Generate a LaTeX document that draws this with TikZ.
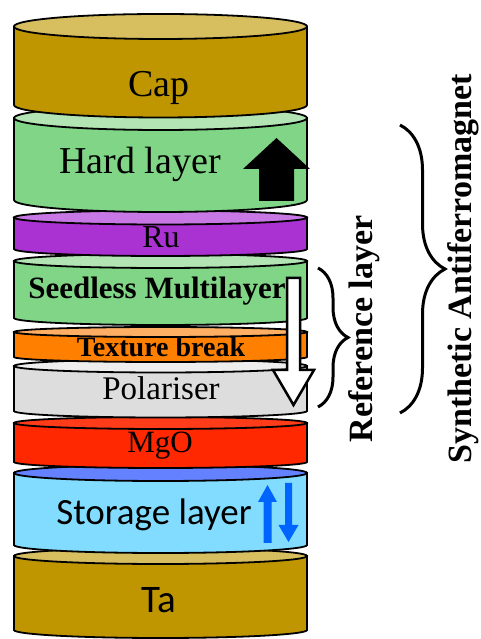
\documentclass[tikz,border=0pt]{standalone}
\usepackage{fontspec}
\setmainfont{Liberation Serif}
\newfontfamily\calib{Carlito}
\usetikzlibrary{decorations.pathreplacing}
\definecolor{goldside}{RGB}{191,150,0}
\definecolor{goldtop}{RGB}{215,190,95}
\definecolor{greenside}{RGB}{128,214,134}
\definecolor{greentop}{RGB}{178,228,180}
\definecolor{ruside}{RGB}{170,50,210}
\definecolor{rutop}{RGB}{200,120,228}
\definecolor{texside}{RGB}{255,128,0}
\definecolor{textop}{RGB}{255,175,100}
\definecolor{polside}{RGB}{221,221,221}
\definecolor{poltop}{RGB}{238,238,238}
\definecolor{mgoside}{RGB}{255,40,0}
\definecolor{mgotop}{RGB}{255,60,25}
\definecolor{storside}{RGB}{130,220,255}
\definecolor{stortop}{RGB}{100,130,255}
\definecolor{spinblue}{RGB}{0,100,255}

% cylinder: top y, bottom y, y radius, side colour, top colour
\newcommand{\xl}{14}
\newcommand{\xr}{307}
\newcommand{\xc}{160.5}
\newcommand{\rx}{146.5}
\newcommand{\layer}[5]{%
  \filldraw[layeredge,fill=#4] (\xl,#1) -- (\xl,#2) arc[start angle=180,end angle=360,x radius=\rx,y radius=#3] -- (\xr,#1) -- cycle;
  \filldraw[layeredge,fill=#5] (\xc,#1) ellipse[x radius=\rx,y radius=#3];}
% block arrow: style, x, tail y, head base y, tip y, shaft half width, head half width
\newcommand{\blkarrow}[7]{%
  \filldraw[#1] ({#2-#6},#3) -- ({#2-#6},#4) -- ({#2-#7},#4) -- (#2,#5) -- ({#2+#7},#4) -- ({#2+#6},#4) -- ({#2+#6},#3) -- cycle;}

\begin{document}
\begin{tikzpicture}[x=1pt,y=1pt,
  layeredge/.style={draw=black,line width=1.8pt},
  lbl/.style={anchor=base,inner sep=0pt},
  bracket/.style={decorate,line width=3pt,decoration={brace,amplitude=#1}}]
\useasboundingbox (0,0) rectangle (480,639);
% stack, bottom first
\layer{83}{9}{8}{goldside}{goldtop}
\layer{166}{94}{8}{storside}{stortop}
\layer{216}{177}{6}{mgoside}{mgotop}
\layer{273}{228}{6.5}{polside}{poltop}
\layer{307}{282}{5}{texside}{textop}
\layer{378}{321}{7}{greenside}{greentop}
\layer{421.5}{390}{7}{ruside}{rutop}
\layer{521}{439}{12}{greenside}{greentop}
\layer{612.5}{534}{12.5}{goldside}{goldtop}
% labels
\node[lbl] (cap) at (159,542) {\fontsize{38}{40}\selectfont Cap};
\node[lbl] (hard) at (140,465) {\fontsize{38}{40}\selectfont Hard layer};
\node[lbl] (ru) at (161,391) {\fontsize{32}{34}\selectfont Ru};
\node[lbl] (seed) at (157,340) {\fontsize{31}{33}\selectfont\bfseries Seedless Multilayer};
\node[lbl] (tex) at (161,282) {\fontsize{28}{30}\selectfont\bfseries Texture break};
\node[lbl] (pol) at (161,239) {\fontsize{33}{35}\selectfont Polariser};
\node[lbl] (mgo) at (160,186) {\fontsize{31}{33}\selectfont MgO};
\node[lbl] (stor) at (154,114) {\calib\fontsize{37}{39}\selectfont Storage layer};
\node[lbl] (ta) at (159,27) {\calib\fontsize{39}{41}\selectfont Ta};
% magnetisation arrows
\blkarrow{fill=black,draw=none}{276.5}{438}{470}{501}{17.5}{33.5}
\blkarrow{fill=white,draw=black,line width=2.5pt,miter limit=4}{293.5}{361}{269}{234}{6.5}{20.5}
\blkarrow{fill=spinblue,draw=none}{267.5}{96}{137}{154}{4}{9.5}
\blkarrow{fill=spinblue,draw=none}{288.5}{156}{114}{97}{3.5}{10}
% braces
\coordinate (refA) at (318,371);
\coordinate (refB) at (318,232);
\coordinate (safA) at (400,514);
\coordinate (safB) at (400,226);
\draw[bracket=30pt] (refA) -- (refB);
\draw[bracket=45pt] (safA) -- (safB);
\node[rotate=90,inner sep=0pt] (reflbl) at (364,310) {\fontsize{34}{36}\selectfont\bfseries Reference layer};
\node[rotate=90,inner sep=0pt] (safmlbl) at (463,370) {\fontsize{34}{36}\selectfont\bfseries Synthetic Antiferromagnet};
\end{tikzpicture}
\end{document}
